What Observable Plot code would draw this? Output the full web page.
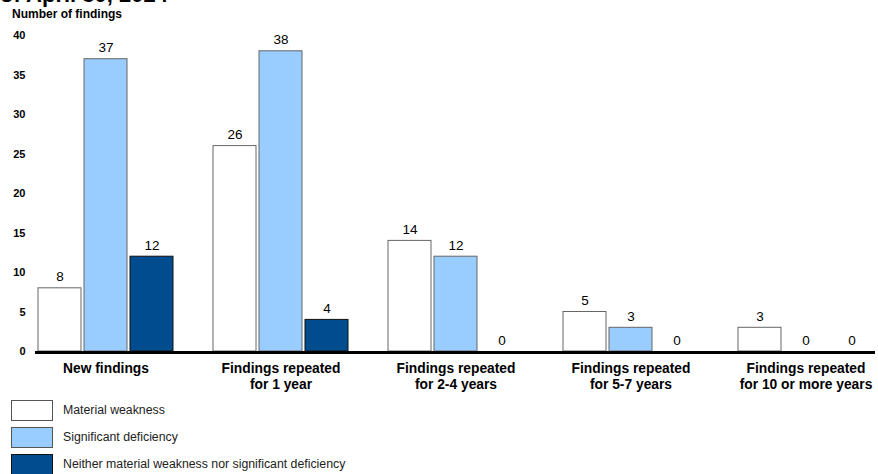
<!DOCTYPE html>
<html>
<head>
<meta charset="utf-8">
<script src="https://cdn.jsdelivr.net/npm/d3@7"></script>
<script src="https://cdn.jsdelivr.net/npm/@observablehq/plot@0.6"></script>
<style>
  html, body { margin: 0; padding: 0; background: #fff; overflow: hidden; }
  body { position: relative; width: 878px; height: 474px; font-family: Arial, "Liberation Sans", sans-serif; }
  #title { position: absolute; left: 0; top: -16px; font-size: 22px; line-height: 22px; font-weight: bold; color: #000; white-space: nowrap; }
  #ylabel { position: absolute; left: 12px; top: 6px; font-size: 12px; line-height: 16px; font-weight: bold; color: #000; }
  #chart { position: absolute; left: 0; top: 0; }
  .leg { position: absolute; left: 11px; width: 42px; height: 21px; box-sizing: border-box; border: 1px solid #555; }
  .legt { position: absolute; left: 63px; font-size: 12.3px; line-height: 14px; color: #222; white-space: nowrap; }
</style>
</head>
<body>
<div id="title">of April 30, 2024</div>
<div id="ylabel">Number of findings</div>
<div id="chart"></div>
<div id="legend"></div>
<script>
const groups = [
  "New findings",
  "Findings repeated\nfor 1 year",
  "Findings repeated\nfor 2-4 years",
  "Findings repeated\nfor 5-7 years",
  "Findings repeated\nfor 10 or more years"
];
const series = [
  "Material weakness",
  "Significant deficiency",
  "Neither material weakness nor significant deficiency"
];
const materialWeakness = [8, 26, 14, 5, 3];
const significantDeficiency = [37, 38, 12, 3, 0];
const neither = [12, 4, 0, 0, 0];
const colors = ["#ffffff", "#99ccff", "#004c8f"];
const strokes = ["#666666", "#666666", "#111111"];
const yTicks = [0, 5, 10, 15, 20, 25, 30, 35, 40];

const seriesValues = [materialWeakness, significantDeficiency, neither];
const data = [];
groups.forEach((g, i) => {
  series.forEach((s, j) => {
    data.push({group: g, series: s, value: seriesValues[j][i]});
  });
});

const plot = Plot.plot({
  width: 878,
  height: 395,
  marginLeft: 36,
  marginRight: 3,
  marginTop: 35,
  marginBottom: 44,
  style: {fontFamily: "Arial, 'Liberation Sans', sans-serif", background: "transparent", color: "#000"},
  fx: {domain: groups, paddingInner: 0.226, paddingOuter: 0, label: null},
  x: {domain: series, paddingInner: 0.075, paddingOuter: 0, axis: null},
  y: {domain: [0, 40], axis: null},
  color: {domain: series, range: colors},
  marks: [
    Plot.barY(data, {
      fx: "group", x: "series", y: "value",
      fill: "series",
      stroke: d => strokes[series.indexOf(d.series)],
      strokeWidth: 1
    }),
    Plot.text(data, {
      fx: "group", x: "series", y: "value",
      text: d => String(d.value),
      lineAnchor: "bottom", dy: -7,
      fontSize: 13.5, fill: "#000"
    }),
    Plot.axisY({ticks: yTicks, tickSize: 0, tickPadding: 13, fontSize: 11, fontWeight: "bold", label: null, anchor: "left"}),
    Plot.axisFx({anchor: "bottom", tickSize: 0, tickPadding: 10, fontSize: 13.8, fontWeight: "bold", label: null, lineHeight: 1.15})
  ]
});
document.getElementById("chart").appendChild(plot);

// continuous baseline across all groups, positioned with the plot's y scale
const y0 = plot.scale("y").apply(0);
d3.select(plot).append("line")
  .attr("x1", 35).attr("x2", 875)
  .attr("y1", y0 + 1.5).attr("y2", y0 + 1.5)
  .attr("stroke", "#000").attr("stroke-width", 3);

const legend = document.getElementById("legend");
series.forEach((s, j) => {
  const top = 400 + j * 27;
  const box = document.createElement("div");
  box.className = "leg";
  box.style.top = top + "px";
  box.style.background = colors[j];
  box.style.borderColor = j === 2 ? "#111" : "#555";
  legend.appendChild(box);
  const t = document.createElement("div");
  t.className = "legt";
  t.style.top = (top + 3) + "px";
  t.textContent = s;
  legend.appendChild(t);
});
</script>
</body>
</html>
